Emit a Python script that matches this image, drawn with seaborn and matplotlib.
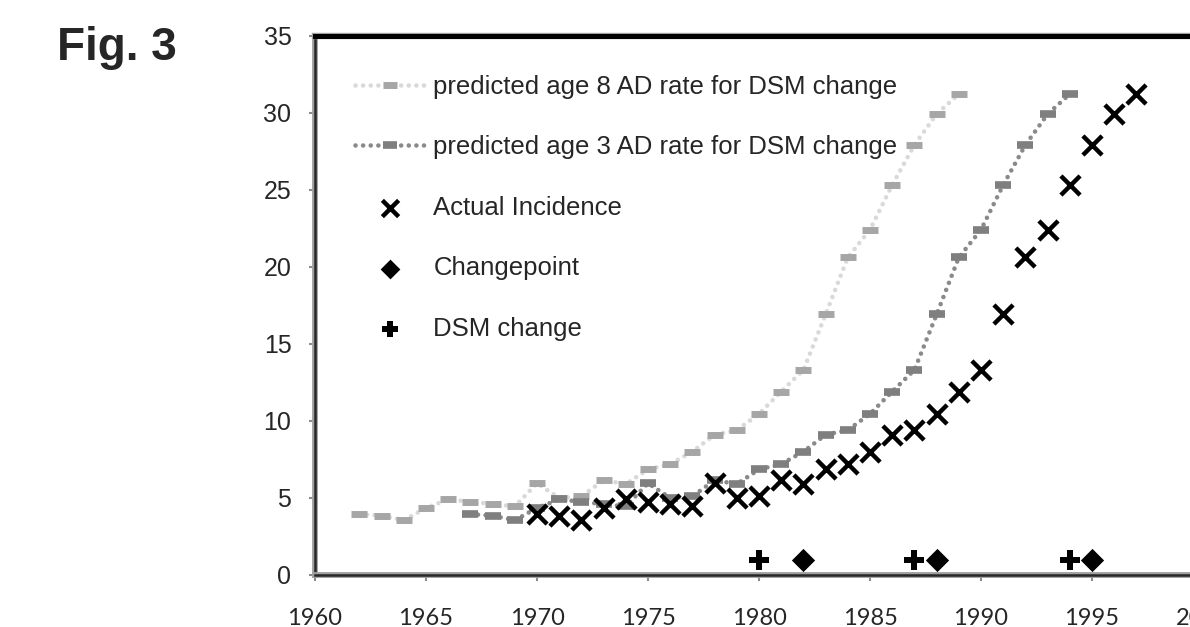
import matplotlib
matplotlib.use("Agg")
import matplotlib.pyplot as plt
import matplotlib.patheffects as pe
import seaborn as sns

# actual autism diagnosis incidence per year
years_actual = [1970, 1971, 1972, 1973, 1974, 1975, 1976, 1977, 1978, 1979,
                1980, 1981, 1982, 1983, 1984, 1985, 1986, 1987, 1988, 1989,
                1990, 1991, 1992, 1993, 1994, 1995, 1996, 1997]
incidence = [3.95, 3.85, 3.55, 4.35, 4.9, 4.75, 4.6, 4.45, 5.95, 5.0,
             5.1, 6.15, 5.9, 6.85, 7.2, 8.0, 9.1, 9.4, 10.45, 11.9,
             13.3, 16.9, 20.6, 22.4, 25.3, 27.9, 29.9, 31.2]

# predicted age 8 rate
years_age8 = [1962, 1963, 1964, 1965, 1966, 1967, 1968, 1969, 1970, 1971,
              1972, 1973, 1974, 1975, 1976, 1977, 1978, 1979, 1980, 1981,
              1982, 1983, 1984, 1985, 1986, 1987, 1988, 1989]
rate_age8 = [3.95, 3.85, 3.55, 4.35, 4.9, 4.75, 4.6, 4.45, 5.95, 5.0,
             5.1, 6.15, 5.9, 6.85, 7.2, 8.0, 9.1, 9.4, 10.45, 11.9,
             13.3, 16.9, 20.6, 22.4, 25.3, 27.9, 29.9, 31.2]

# predicted age 3 rate
years_age3 = [1967, 1968, 1969, 1970, 1971, 1972, 1973, 1974, 1975, 1976,
              1977, 1978, 1979, 1980, 1981, 1982, 1983, 1984, 1985, 1986,
              1987, 1988, 1989, 1990, 1991, 1992, 1993, 1994]
rate_age3 = [3.95, 3.85, 3.55, 4.35, 4.9, 4.75, 4.6, 4.45, 5.95, 5.0,
             5.1, 6.15, 5.9, 6.85, 7.2, 8.0, 9.1, 9.4, 10.45, 11.9,
             13.3, 16.9, 20.6, 22.4, 25.3, 27.9, 29.9, 31.2]

changepoint_years = [1982, 1988, 1995]
changepoint_vals = [1, 1, 1]
dsm_years = [1980, 1987, 1994]
dsm_vals = [1, 1, 1]

x_ticks = [1960, 1965, 1970, 1975, 1980, 1985, 1990, 1995, 2000]
y_ticks = [0, 5, 10, 15, 20, 25, 30, 35]

sns.set_style("white")
plt.rcParams["font.family"] = ["Liberation Sans", "DejaVu Sans"]

fig = plt.figure(figsize=(11.9, 6.27), dpi=100)
# axes runs past the right edge of the figure, as in the original crop
ax = fig.add_axes([315 / 1190, 52 / 627, 888 / 1190, 539.5 / 627])

dots = (0, (0.01, 1.65))
sns.lineplot(x=years_age8, y=rate_age8, ax=ax, color="#d9d9d9", lw=3.3,
             linestyle=dots, dash_capstyle="round", marker="_", markersize=12,
             mew=5, mec="#a6a6a6", label="predicted age 8 AD rate for DSM change")
sns.lineplot(x=years_age3, y=rate_age3, ax=ax, color="#8a8a8a", lw=3.3,
             linestyle=dots, dash_capstyle="round", marker="_", markersize=12,
             mew=5.5, mec="#7f7f7f", label="predicted age 3 AD rate for DSM change")
sns.scatterplot(x=years_actual, y=incidence, ax=ax, marker="x", s=190,
                linewidth=3.2, color="black", label="Actual Incidence", zorder=5)
sns.scatterplot(x=changepoint_years, y=changepoint_vals, ax=ax, marker="D",
                s=140, color="black", linewidth=0, label="Changepoint", zorder=5)
sns.scatterplot(x=dsm_years, y=dsm_vals, ax=ax, marker="P", s=190,
                color="black", linewidth=0, label="DSM change", zorder=5)

ax.set_xlim(1960, 2000)
ax.set_ylim(0, 35)
ax.set_xticks(x_ticks)
ax.set_yticks(y_ticks)
ax.set_xlabel("")
ax.set_ylabel("")
ax.grid(False)

for lab in ax.get_xticklabels():
    lab.set_family(["Lato", "DejaVu Sans"])
    lab.set_fontsize(17)
for lab in ax.get_yticklabels():
    lab.set_fontsize(18)
ax.tick_params(axis="x", direction="out", length=4, width=1.5, color="#8c8c8c",
               pad=20, bottom=True)
ax.tick_params(axis="y", direction="out", length=4, width=1.5, color="#8c8c8c",
               pad=13, left=True)

ax.spines["right"].set_visible(False)
for side in ["left", "bottom"]:
    ax.spines[side].set_color("#262626")
    ax.spines[side].set_linewidth(1.8)
    ax.spines[side].set_path_effects([pe.Stroke(linewidth=4.2, foreground="#a0a0a0"), pe.Normal()])
ax.spines["top"].set_color("black")
ax.spines["top"].set_linewidth(3.6)
ax.spines["top"].set_path_effects([pe.Stroke(linewidth=4.6, foreground="#a0a0a0"), pe.Normal()])

handles, labels = ax.get_legend_handles_labels()
leg = ax.legend(handles, labels, loc="upper left", bbox_to_anchor=(0.045, 0.927),
                frameon=False, fontsize=18.5, handlelength=2.75, handletextpad=0.3,
                labelspacing=1.42, borderpad=0, borderaxespad=0, numpoints=1,
                scatterpoints=1, markerscale=0.85)

fig.text(57 / 1190, 1 - 60 / 627, "Fig. 3", fontsize=33, fontweight="bold",
         ha="left", va="baseline")

fig.savefig("out.png", dpi=100)
